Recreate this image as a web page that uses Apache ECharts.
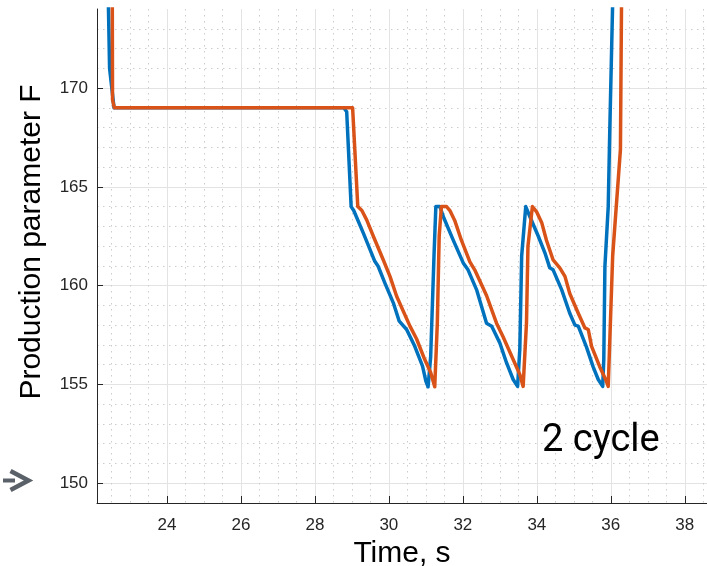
<!DOCTYPE html>
<html>
<head>
<meta charset="utf-8">
<script src="https://cdn.jsdelivr.net/npm/echarts@6/dist/echarts.min.js"></script>
<style>
  html, body { margin: 0; padding: 0; background: #ffffff; }
  #chart { width: 707px; height: 566px; }
</style>
</head>
<body>
<div id="chart"></div>
<script>
// Time (s) and production parameter F for the two curves
const blueTime = [22.39, 22.45, 22.57, 28.78, 28.86, 28.98, 29.05, 29.31, 29.62, 29.71, 29.89, 30.12, 30.28, 30.48, 30.70, 30.91, 31.00, 31.06, 31.13, 31.22, 31.27, 31.38, 31.47, 31.74, 32.01, 32.14, 32.37, 32.64, 32.78, 33.00, 33.18, 33.36, 33.48, 33.54, 33.59, 33.70, 33.81, 34.04, 34.22, 34.35, 34.44, 34.67, 34.89, 35.03, 35.12, 35.34, 35.52, 35.66, 35.78, 35.81, 35.84, 35.93, 35.97, 36.07];
const blueValue = [177, 171, 169, 169, 168.8, 164.0, 163.8, 162.66, 161.23, 160.98, 160.14, 159.13, 158.2, 157.78, 156.93, 155.93, 155.17, 154.88, 156.4, 161.5, 164.0, 164.0, 163.5, 162.3, 161.15, 160.8, 159.8, 158.1, 157.95, 157.1, 156.1, 155.25, 154.9, 156.8, 161.5, 164.0, 163.5, 162.5, 161.65, 160.9, 160.8, 159.8, 158.6, 158.0, 157.95, 156.9, 155.9, 155.25, 154.9, 156.26, 160.97, 164.0, 167.7, 176];

const orangeTime = [22.52, 22.53, 22.58, 29.02, 29.05, 29.16, 29.27, 29.40, 29.58, 29.85, 30.03, 30.21, 30.57, 30.75, 30.97, 31.13, 31.24, 31.31, 31.36, 31.42, 31.56, 31.65, 31.78, 31.96, 32.19, 32.32, 32.64, 32.91, 33.09, 33.36, 33.54, 33.63, 33.72, 33.76, 33.88, 33.99, 34.13, 34.26, 34.44, 34.62, 34.76, 34.89, 35.12, 35.30, 35.39, 35.48, 35.70, 35.86, 35.93, 36.05, 36.26, 36.30];
const orangeValue = [177, 169.4, 169, 169, 168.9, 164.0, 163.8, 163.33, 162.5, 161.3, 160.47, 159.46, 157.95, 157.3, 156.26, 155.6, 154.88, 158.1, 162.5, 164.0, 164.0, 163.8, 163.3, 162.3, 161.2, 160.8, 159.5, 158.1, 157.4, 156.26, 155.5, 154.9, 158.1, 162.0, 164.0, 163.75, 163.2, 162.3, 161.3, 160.9, 160.47, 159.6, 158.6, 157.86, 157.78, 156.93, 155.9, 155.25, 154.9, 161.5, 166.9, 177];

const xRange = [22.11, 38.6];
const yRange = [149, 174];

const axisFont = '"Liberation Sans", Arial, sans-serif';
const pairs = (t, v) => t.map((x, i) => [x, v[i]]);

const chart = echarts.init(document.getElementById('chart'), null, { renderer: 'canvas' });
chart.setOption({
  backgroundColor: '#ffffff',
  animation: false,
  grid: { left: 97, right: 0, top: 9, bottom: 63, containLabel: false, outerBoundsMode: 'none' },
  xAxis: {
    type: 'value',
    min: xRange[0], max: xRange[1],
    splitNumber: 8,
    name: 'Time, s',
    nameLocation: 'middle',
    nameGap: 19,
    nameTextStyle: { fontFamily: axisFont, fontSize: 30, color: '#000000' },
    axisLine: { show: true, onZero: false, lineStyle: { color: '#262626', width: 1 } },
    axisTick: { show: true, inside: true, length: 7, lineStyle: { color: '#262626', width: 1 } },
    axisLabel: { showMinLabel: false, showMaxLabel: false, margin: 14, fontFamily: axisFont, fontSize: 17, color: '#262626' },
    splitLine: { show: true, lineStyle: { color: '#e3e3e3', width: 1 } },
    minorTick: { show: false, splitNumber: 4 },
    minorSplitLine: { show: true, lineStyle: { color: '#cccccc', width: 1, type: [1.5, 4.5] } }
  },
  yAxis: {
    type: 'value',
    min: yRange[0], max: yRange[1],
    name: 'Production parameter F',
    nameLocation: 'middle',
    nameGap: 50,
    nameRotate: 90,
    nameTextStyle: { fontFamily: axisFont, fontSize: 30, color: '#000000', padding: [0, 0, 0, 28] },
    axisLine: { show: true, onZero: false, lineStyle: { color: '#262626', width: 1 } },
    axisTick: { show: true, inside: true, length: 6, lineStyle: { color: '#262626', width: 1 } },
    axisLabel: { showMinLabel: false, showMaxLabel: false, margin: 9, fontFamily: axisFont, fontSize: 17, color: '#262626' },
    splitLine: { show: true, showMaxLine: false, lineStyle: { color: '#e3e3e3', width: 1 } },
    minorTick: { show: false, splitNumber: 5 },
    minorSplitLine: { show: true, lineStyle: { color: '#cccccc', width: 1, type: [1.5, 4.5] } }
  },
  series: [
    {
      type: 'line', name: 'blue', data: pairs(blueTime, blueValue),
      showSymbol: false, symbol: 'none', clip: true,
      lineStyle: { color: '#0072BD', width: 3.5, join: 'round' }
    },
    {
      type: 'line', name: 'orange', data: pairs(orangeTime, orangeValue),
      showSymbol: false, symbol: 'none', clip: true,
      lineStyle: { color: '#D95319', width: 3.5, join: 'round' }
    }
  ],
  graphic: [
    {
      type: 'text', left: 542, top: 422, z: 10,
      style: { text: '2 cycle', fontFamily: 'Roboto, sans-serif', fontSize: 38, fill: '#000000' }
    },
    {
      type: 'polyline', z: 10,
      shape: { points: [[10.5, 471], [28.5, 480.5], [10.5, 490]] },
      style: { stroke: '#5b6168', lineWidth: 4.5, fill: null, lineJoin: 'miter' }
    },
    {
      type: 'line', z: 10,
      shape: { x1: 3, y1: 480.5, x2: 15, y2: 480.5 },
      style: { stroke: '#5b6168', lineWidth: 4 }
    }
  ]
});
</script>
</body>
</html>
